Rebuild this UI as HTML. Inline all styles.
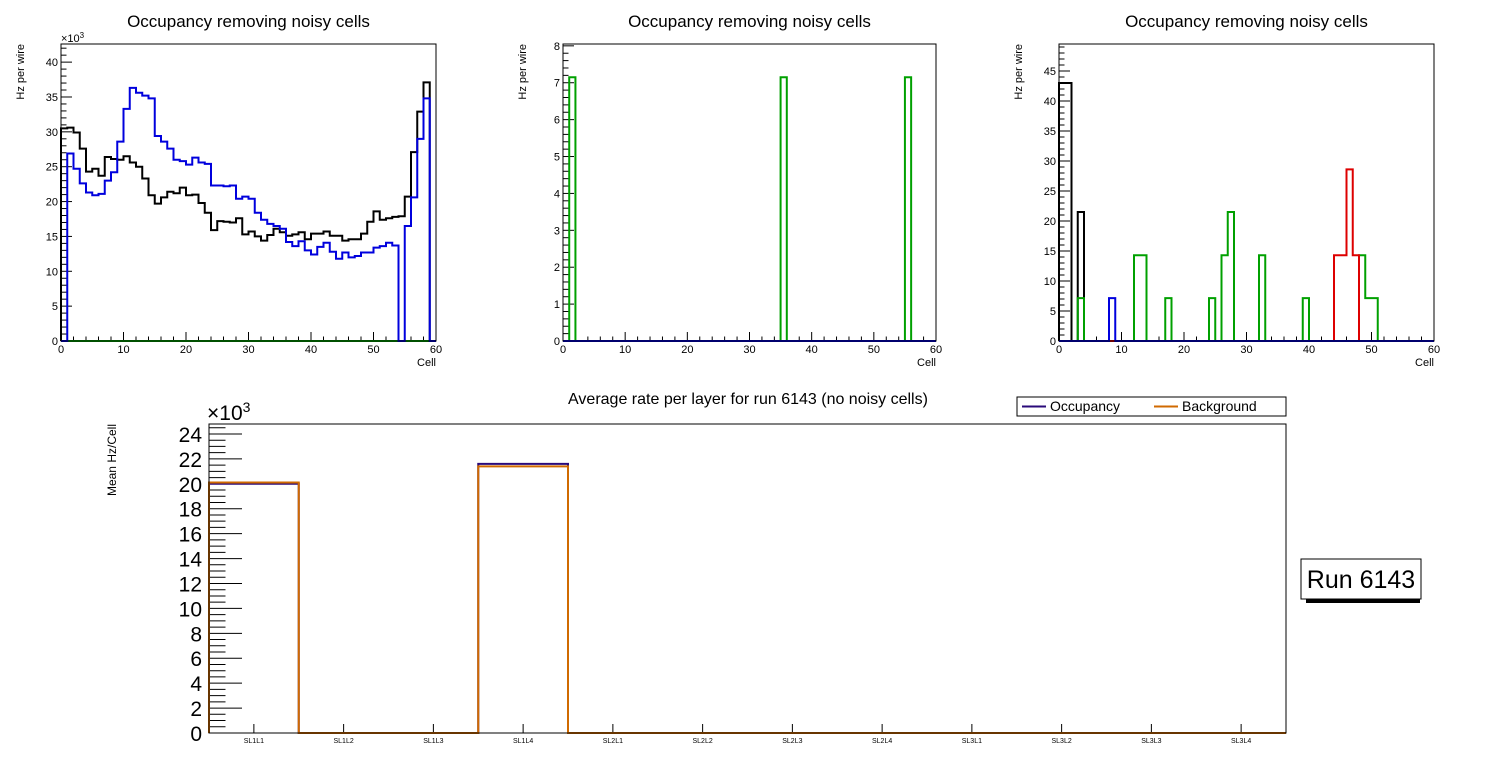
<!DOCTYPE html>
<html><head><meta charset="utf-8"><style>
html,body{margin:0;padding:0;background:#fff;}
svg{display:block;font-family:"Liberation Sans",sans-serif;}
</style></head><body>
<svg id="c" width="1496" height="772" viewBox="0 0 1496 772"></svg>
<script>
// ---------- Data ----------
const p1Black = [30.5,30.6,29.9,27.6,24.3,24.7,23.7,26.4,26.1,26.0,26.5,25.6,25.0,23.3,20.9,19.7,20.6,21.4,21.2,22.0,20.9,21.0,19.8,18.4,15.9,17.2,17.1,17.0,17.6,15.3,15.7,15.0,14.4,15.2,16.1,15.6,15.1,15.3,15.6,14.6,15.4,15.4,15.7,15.1,15.1,14.4,14.6,14.6,15.4,17.1,18.6,17.4,17.6,17.8,17.9,20.7,27.1,32.9,37.1,0];
const p1Blue = [0,26.9,24.7,22.6,21.3,20.9,21.1,23.0,24.2,28.6,33.3,36.3,35.6,35.2,34.8,29.4,28.6,27.6,26.0,25.8,25.3,26.3,25.6,25.4,22.3,22.3,22.2,22.3,20.4,20.7,20.4,18.4,17.4,16.8,16.5,16.1,14.2,13.6,14.3,13.0,12.4,13.5,14.1,12.8,11.8,12.7,12.0,12.2,12.7,12.7,13.4,13.6,14.1,13.7,0,16.5,20.6,29.0,34.8,0];
const p2GreenBins = [1,35,55];
const p2GreenVals = [7.15,7.15,7.15];
const p3BlackBins = [0,1,3];
const p3BlackVals = [43,43,21.5];
const p3GreenBins = [3,12,13,17,24,26,27,32,39,48,49,50];
const p3GreenVals = [7.15,14.3,14.3,7.15,7.15,14.3,21.5,14.3,7.15,14.3,7.15,7.15];
const p3BlueBins = [8];
const p3BlueVals = [7.15];
const p3RedBins = [44,45,46,47];
const p3RedVals = [14.3,14.3,28.6,14.3];
const layerLabels = ["SL1L1","SL1L2","SL1L3","SL1L4","SL2L1","SL2L2","SL2L3","SL2L4","SL3L1","SL3L2","SL3L3","SL3L4"];
const occupancyVals = [20.0,0,0,21.6,0,0,0,0,0,0,0,0];
const backgroundVals = [20.1,0,0,21.4,0,0,0,0,0,0,0,0];
const p1YTicks = [0,5,10,15,20,25,30,35,40];
const p2YTicks = [0,1,2,3,4,5,6,7,8];
const p3YTicks = [0,5,10,15,20,25,30,35,40,45];
const xTicks60 = [0,10,20,30,40,50,60];
const botYTicks = [0,2,4,6,8,10,12,14,16,18,20,22,24];

const NS="http://www.w3.org/2000/svg";
const svg=document.getElementById('c');
function mk(tag,attrs,parent){const e=document.createElementNS(NS,tag);for(const k in attrs)e.setAttribute(k,attrs[k]);(parent||svg).appendChild(e);return e;}
function txt(s,attrs,parent){const e=mk('text',attrs,parent);e.textContent=s;return e;}

function expand(bins,vals,n){const a=new Array(n).fill(0);bins.forEach((b,i)=>a[b]=vals[i]);return a;}

function histPath(vals,sx,sy,n){
  let d='M'+sx(0)+','+sy(0);
  for(let i=0;i<n;i++){d+=' L'+sx(i)+','+sy(vals[i])+' L'+sx(i+1)+','+sy(vals[i]);}
  d+=' L'+sx(n)+','+sy(0);
  return d;
}

function smallPlot(g,L,R,T,B,ymax,yticks,yMinorStep,series,sci){
  const sx=v=>L+(R-L)*v/60;
  const sy=v=>B-(B-T)*v/ymax;
  txt('Occupancy removing noisy cells',{x:(L+R)/2-0,y:27,'font-size':17,'text-anchor':'middle',},g);
  // ticks
  const ax=mk('g',{},g);
  for(let v=0;v<=ymax+1e-9;v+=yMinorStep){
    const isMaj=yticks.some(t=>Math.abs(t-v)<1e-6);
    mk('line',{x1:L,x2:L+(isMaj?11:5.5),y1:sy(v),y2:sy(v),stroke:'#000','stroke-width':1},ax);
  }
  yticks.forEach(t=>{txt(String(t),{x:L-3,y:sy(t)+4,'font-size':11,'text-anchor':'end'},ax);});
  const xa=mk('g',{},g);
  for(let v=0;v<=60;v+=2){const maj=v%10===0;mk('line',{x1:sx(v),x2:sx(v),y1:B,y2:B-(maj?9:4.5),stroke:'#000','stroke-width':1},xa);}
  xTicks60.forEach(t=>txt(String(t),{x:sx(t),y:B+12,'font-size':11,'text-anchor':'middle'},xa));
  txt('Cell',{x:R,y:B+25,'font-size':11,'text-anchor':'end',},g);
  const yt=txt('Hz per wire',{x:0,y:0,'font-size':11,'text-anchor':'end',transform:`translate(${L-37},${T}) rotate(-90)`,},g);
  if(sci){const s=txt('×10',{x:L,y:T-2,'font-size':11,},g);const sp=mk('tspan',{dy:-4,'font-size':8},s);sp.textContent='3';}
  series.forEach(s=>{
    const p=mk('path',{d:histPath(s.vals,sx,sy,60),fill:'none',stroke:s.color,'stroke-width':2},g);
    
    
  });
  mk('rect',{x:L,y:T,width:R-L,height:B-T,fill:'none',stroke:'#000','stroke-width':1,},g);
}

const g1=mk('g',{});
smallPlot(g1,61,436,44,341,42.6,p1YTicks,1,[
  {vals:new Array(60).fill(0),color:'#00a000',name:'series-green'},
  {vals:p1Black,color:'#000',name:'series-black'},
  {vals:p1Blue,color:'#0000dd',name:'series-blue'}],true);

const g2=mk('g',{});
smallPlot(g2,563,936,44,341,8.05,p2YTicks,0.2,[
  {vals:expand(p2GreenBins,p2GreenVals,60),color:'#00a000',name:'series-green'},
  {vals:new Array(60).fill(0),color:'#0000dd',name:'series-blue'}],false);

const g3=mk('g',{});
smallPlot(g3,1059,1434,44,341,49.5,p3YTicks,1,[
  {vals:expand(p3BlackBins,p3BlackVals,60),color:'#000',name:'series-black'},
  {vals:expand(p3GreenBins,p3GreenVals,60),color:'#00a000',name:'series-green'},
  {vals:expand(p3RedBins,p3RedVals,60),color:'#dd0000',name:'series-red'},
  {vals:expand(p3BlueBins,p3BlueVals,60),color:'#0000dd',name:'series-blue'}],false);

// ---------- bottom plot ----------
(function(){
  const g=mk('g',{});
  const L=209,R=1286,T=424,B=733,ymax=24.8,n=layerLabels.length;
  const sx=v=>L+(R-L)*v/n;
  const sy=v=>B-(B-T)*v/ymax;
  txt('Average rate per layer for run 6143 (no noisy cells)',{x:748,y:404,'font-size':16,'text-anchor':'middle',},g);
  const ax=mk('g',{},g);
  for(let v=0;v<=ymax+1e-9;v+=0.5){const maj=Math.abs(v/2-Math.round(v/2))<1e-6;mk('line',{x1:L,x2:L+(maj?33:16.5),y1:sy(v),y2:sy(v),stroke:'#000','stroke-width':1},ax);}
  botYTicks.forEach(t=>txt(String(t),{x:L-7,y:sy(t)+8,'font-size':21,'text-anchor':'end'},ax));
  const s=txt('×10',{x:L-2,y:T-4,'font-size':21,},g);
  const sp=mk('tspan',{dy:-8,'font-size':14},s);sp.textContent='3';
  txt('Mean Hz/Cell',{x:0,y:0,'font-size':12,'text-anchor':'end',transform:`translate(116,424) rotate(-90)`,},g);
  const xa=mk('g',{},g);
  layerLabels.forEach((lab,i)=>{const cx=sx(i+0.5);mk('line',{x1:cx,x2:cx,y1:B,y2:B-9,stroke:'#000'},xa);txt(lab,{x:cx,y:B+10,'font-size':7,'text-anchor':'middle'},xa);});
  const p1=mk('path',{d:histPath(occupancyVals,sx,sy,n),fill:'none',stroke:'#2a0a7a','stroke-width':2},g);
  
  
  const p2=mk('path',{d:histPath(backgroundVals,sx,sy,n),fill:'none',stroke:'#d06a00','stroke-width':2},g);
  
  
  mk('rect',{x:L,y:T,width:R-L,height:B-T,fill:'none',stroke:'#000','stroke-width':1,},g);
  // legend
  const lg=mk('g',{},g);
  mk('rect',{x:1017,y:397,width:269,height:19,fill:'#fff',stroke:'#000'},lg);
  mk('line',{x1:1022,x2:1046,y1:406.5,y2:406.5,stroke:'#2a0a7a','stroke-width':2},lg);
  txt('Occupancy',{x:1050,y:411,'font-size':14},lg);
  mk('line',{x1:1154,x2:1178,y1:406.5,y2:406.5,stroke:'#d06a00','stroke-width':2},lg);
  txt('Background',{x:1182,y:411,'font-size':14},lg);
  // run box
  const rb=mk('g',{});
  mk('rect',{x:1306,y:598,width:114,height:5,fill:'#000'},rb);
  mk('rect',{x:1301,y:559,width:120,height:40,fill:'#fff',stroke:'#000'},rb);
  txt('Run 6143',{x:1361,y:588,'font-size':25,'text-anchor':'middle'},rb);
})();
</script>
</body></html>
